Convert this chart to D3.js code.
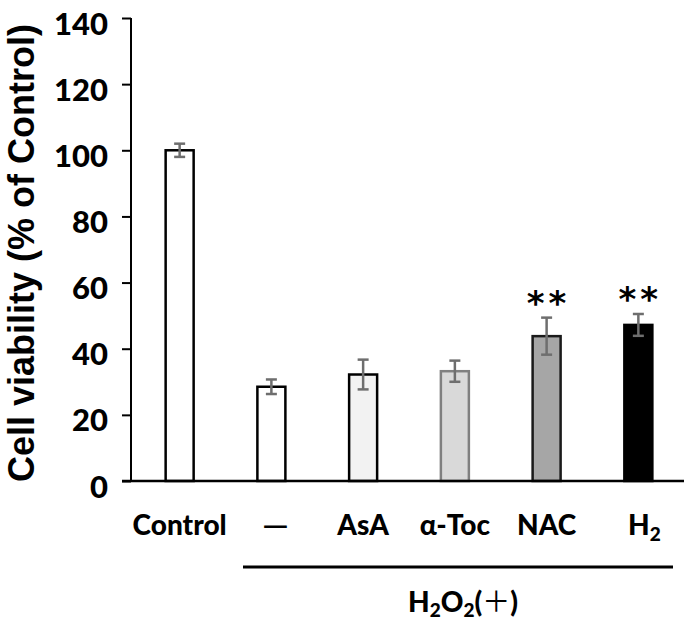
<!DOCTYPE html>
<html>
<head>
<meta charset="utf-8">
<script src="https://cdn.jsdelivr.net/npm/d3@7/dist/d3.min.js"></script>
<style>
html,body{margin:0;padding:0;background:#fff;}
svg{display:block;}
</style>
</head>
<body>
<svg id="chart" width="685" height="623"></svg>
<script>
const categories = ["Control", "—", "AsA", "α-Toc", "NAC", "H2"];
const values = [100, 28.5, 32.2, 33.2, 43.8, 47.2];
const errors = [2.0, 2.2, 4.5, 3.2, 5.6, 3.3];
const significance = ["", "", "", "", "**", "**"];
const fills = ["#ffffff", "#ffffff", "#f2f2f2", "#d9d9d9", "#a6a6a6", "#000000"];
const strokes = ["#000000", "#000000", "#000000", "#808080", "#1a1a1a", "#000000"];
const yTicks = [0, 20, 40, 60, 80, 100, 120, 140];
const yTitle = "Cell viability (% of Control)";

const svg = d3.select("#chart");
const axisX = 131, baseY = 481, topY = 18, rightX = 684;

const x = d3.scaleBand().domain(categories).range([134, rightX]).paddingInner(0.673).paddingOuter(0.334);
const y = d3.scaleLinear().domain([0, 140]).range([baseY, topY]);

// bars
svg.append("g").selectAll("rect").data(categories).join("rect")
  .attr("x", d => x(d) + 1)
  .attr("width", x.bandwidth() - 2)
  .attr("y", (d, i) => y(values[i]))
  .attr("height", (d, i) => baseY - y(values[i]))
  .attr("fill", (d, i) => fills[i])
  .attr("stroke", (d, i) => strokes[i])
  .attr("stroke-width", 2.5);

// error bars
const eb = svg.append("g").attr("stroke", "#6e6e6e").attr("stroke-width", 2.5);
categories.forEach((c, i) => {
  const cx = x(c) + x.bandwidth() / 2;
  const y1 = y(values[i] + errors[i]), y2 = y(values[i] - errors[i]);
  eb.append("line").attr("x1", cx).attr("x2", cx).attr("y1", y1).attr("y2", y2);
  eb.append("line").attr("x1", cx - 5.5).attr("x2", cx + 5.5).attr("y1", y1).attr("y2", y1);
  eb.append("line").attr("x1", cx - 5.5).attr("x2", cx + 5.5).attr("y1", y2).attr("y2", y2);
});

// significance stars
categories.forEach((c, i) => {
  if (!significance[i]) return;
  const cx = x(c) + x.bandwidth() / 2 + 2;
  svg.append("text")
    .attr("x", cx).attr("y", y(values[i] + errors[i]) - 3)
    .attr("text-anchor", "middle")
    .attr("font-family", "DejaVu Sans")
    .attr("font-weight", "bold")
    .attr("font-size", 34)
    .attr("letter-spacing", 4)
    .attr("fill", "#000")
    .text(significance[i]);
});

// y axis
const yAxis = d3.axisLeft(y).tickValues(yTicks).tickSize(9).tickPadding(14);
const gy = svg.append("g").attr("transform", `translate(${axisX},0)`).call(yAxis);
gy.select(".domain").attr("stroke", "#000").attr("stroke-width", 2).attr("d", `M0,${baseY}V${topY}`);
gy.selectAll(".tick line").attr("stroke", "#000").attr("stroke-width", 2);
gy.selectAll(".tick text")
  .attr("font-family", "Lato")
  .attr("font-weight", "900")
  .attr("font-size", 31)
  .attr("fill", "#000")
  .attr("dy", "0.52em");

// x baseline
svg.append("line").attr("x1", 122).attr("x2", rightX).attr("y1", baseY).attr("y2", baseY)
  .attr("stroke", "#000").attr("stroke-width", 2.5);

// category labels
categories.forEach((c, i) => {
  const cx = x(c) + x.bandwidth() / 2;
  const t = svg.append("text")
    .attr("x", cx).attr("y", 535)
    .attr("text-anchor", "middle")
    .attr("font-family", "Lato")
    .attr("font-weight", "900")
    .attr("font-size", 28)
    .attr("fill", "#000");
  if (c === "H2") {
    t.append("tspan").text("H");
    t.append("tspan").attr("font-size", 19).attr("dy", 6).text("2");
    t.attr("x", cx + 6);
  } else if (c === "—") {
    t.attr("x", cx + 4).attr("font-family", "Noto Sans CJK JP").attr("font-weight", "bold").text(c);
  } else {
    t.text(c);
  }
});

// group underline and label
svg.append("line").attr("x1", 243).attr("x2", 673).attr("y1", 567).attr("y2", 567)
  .attr("stroke", "#000").attr("stroke-width", 3);

const g = svg.append("text").attr("x", 463).attr("y", 612).attr("text-anchor", "middle")
  .attr("font-family", "Lato").attr("font-weight", "900").attr("font-size", 28).attr("fill", "#000");
g.append("tspan").text("H");
g.append("tspan").attr("font-size", 19).attr("dy", 5).text("2");
g.append("tspan").attr("dy", -5).text("O");
g.append("tspan").attr("font-size", 19).attr("dy", 5).text("2");
g.append("tspan").attr("dy", -5).text("(");
g.append("tspan").attr("font-family", "Noto Sans CJK JP").attr("font-weight", "normal").text("＋");
g.append("tspan").text(")");

// y title
svg.append("text")
  .attr("transform", `translate(34,253) rotate(-90)`)
  .attr("text-anchor", "middle")
  .attr("font-family", "Liberation Sans")
  .attr("font-weight", "bold")
  .attr("font-size", 36)
  .attr("fill", "#000")
  .text(yTitle);
</script>
</body>
</html>
